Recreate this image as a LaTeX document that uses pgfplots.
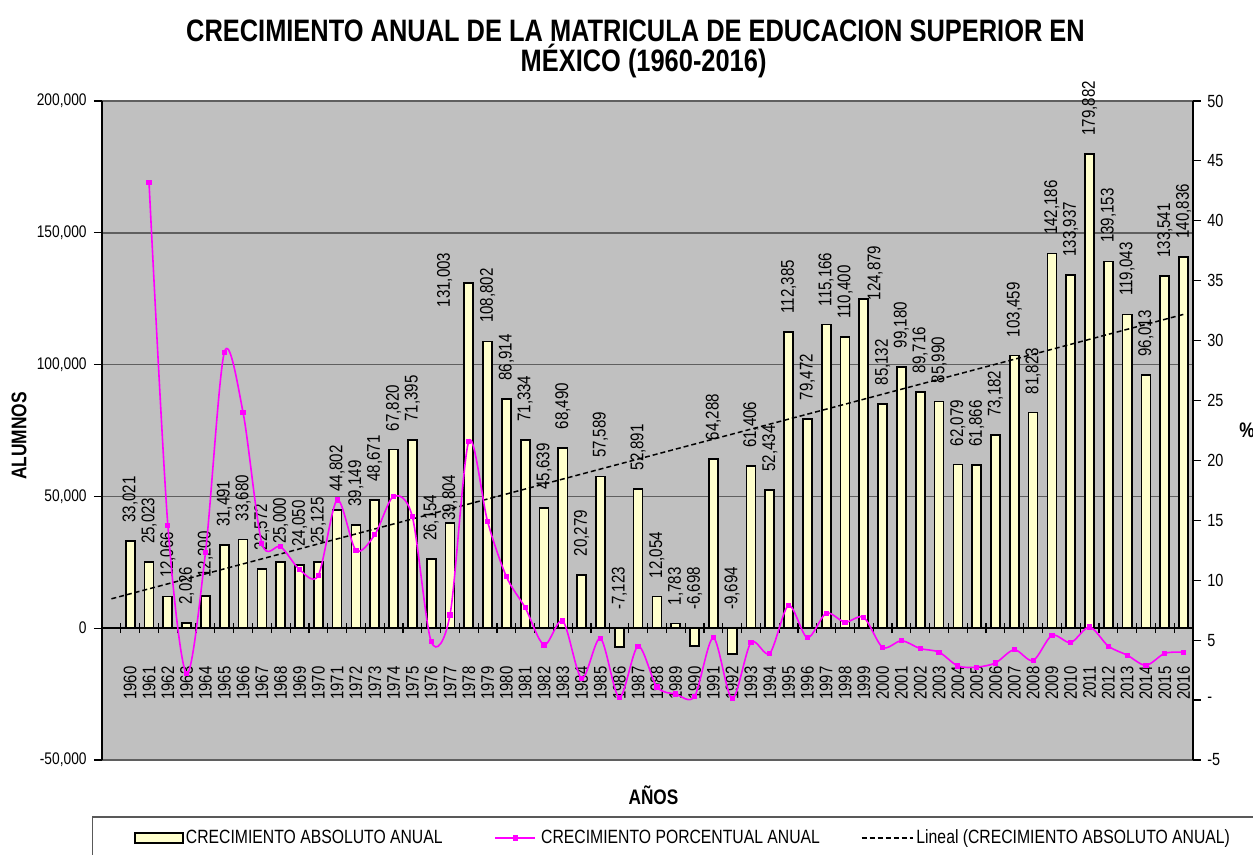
\documentclass[border=0pt]{standalone}
\usepackage{pgfplots}
\pgfplotsset{compat=1.18}
\usepackage{pgfplotstable}
\usepackage{fontspec}
\setmainfont{Liberation Sans}
\newfontfamily\narrow[FakeStretch=0.82]{Liberation Sans}
\definecolor{plotbg}{RGB}{192,192,192}
\definecolor{barfill}{RGB}{255,255,204}
\definecolor{gridc}{RGB}{95,95,95}
\definecolor{mag}{RGB}{255,0,255}
\newcommand{\tickfont}{\narrow\fontsize{8.4}{10}\selectfont}
\newcommand{\rtickfont}{\narrow\fontsize{8.8}{10}\selectfont}
\newcommand{\yearfont}{\narrow\fontsize{9.1}{11}\selectfont}
\newcommand{\lblfont}{\narrow\fontsize{9.2}{11}\selectfont}
\newcommand{\legfont}{\narrow\fontsize{9.6}{11.5}\selectfont}
\pgfplotsset{
  barleg/.style={legend image code/.code={\draw[fill=barfill, draw=black, line width=0.8pt] (0pt,-2.5pt) rectangle (24pt,2.5pt);}},
  magleg/.style={legend image code/.code={\draw[mark repeat=2, mark phase=2, ##1] plot coordinates {(0pt,0pt) (10pt,0pt) (20pt,0pt)};}},
  trendleg/.style={legend image code/.code={\draw[##1] (0pt,0pt) -- (25.5pt,0pt);}},
}

\pgfplotstableread{
x abs labpos dx dy
0 33021 33021 0 9
1 25023 25023 0 9
2 12066 12066 0 9
3 2026 2026 0 9
4 12200 12200 0 9
5 31491 31491 0 9
6 33680 33680 0 9
7 22572 22572 0 9
8 25000 25000 0 9
9 24050 24050 0 9
10 25125 25125 0 9
11 44802 44802 0 9
12 39149 39149 0 9
13 48671 48671 0 9
14 67820 67820 0 9
15 71395 71395 0 9
16 26154 26154 0 9
17 39804 39804 0 1
18 131003 131003 -12.1 -12.4
19 108802 108802 0 9
20 86914 86914 0 9
21 71334 71334 0 9
22 45639 45639 0 9
23 68490 68490 0 9
24 20279 20279 0 9
25 57589 57589 0 9
26 -7123 0 0 9
27 52891 52891 0 9
28 12054 12054 0 9
29 1783 1783 0 9
30 -6698 0 0 9
31 64288 64288 0 9
32 -9694 0 0 9
33 61406 61406 0 9
34 52434 52434 0 9
35 112385 112385 0 9
36 79472 79472 0 9
37 115166 115166 0 9
38 110400 110400 0 9
39 124879 124879 5.7 -0.8
40 85132 85132 0 9
41 99180 99180 0 9
42 89716 89716 0 9
43 85990 85990 0 9
44 62079 62079 0 9
45 61866 61866 0 9
46 73182 73182 0 9
47 103459 103459 0 9
48 81823 81823 0 9
49 142186 142186 0 9
50 133937 133937 0 9
51 179882 179882 0 9
52 139153 139153 0 9
53 119043 119043 0 9
54 96013 96013 0 9
55 133541 133541 0 9
56 140836 140836 0 9
}\absdata

\pgfplotstableread{
x pct
1 43.2
2 14.6
3 2.2
4 12.3
5 29.0
6 24.0
7 13.1
8 12.8
9 10.9
10 10.4
11 16.7
12 12.5
13 13.8
14 17.0
15 15.3
16 4.9
17 7.1
18 21.6
19 14.9
20 10.3
21 7.7
22 4.6
23 6.6
24 1.8
25 5.15
26 0.2
27 4.5
28 1.1
29 0.5
30 0.3
31 5.2
32 0.1
33 4.8
34 3.9
35 7.9
36 5.2
37 7.25
38 6.5
39 6.9
40 4.4
41 4.95
42 4.3
43 4.0
44 2.85
45 2.75
46 3.1
47 4.2
48 3.3
49 5.4
50 4.8
51 6.1
52 4.5
53 3.75
54 2.9
55 3.9
56 4.0
}\pctdata

\begin{document}
\begin{tikzpicture}
% ---------- axis 1: bars, left axis, grid, labels, trend ----------
\begin{axis}[name=ax, at={(0,0)}, anchor=south west, scale only axis,
  width=545.5pt, height=329.5pt,
  xmin=-1.5, xmax=56.5, ymin=-50000, ymax=200000,
  axis background/.style={fill=plotbg},
  axis x line=none, axis y line*=left,
  y axis line style={black, line width=0.75pt},
  ytick={-50000,0,50000,100000,150000,200000},
  scaled y ticks=false,
  ymajorgrids, major grid style={gridc, line width=0.75pt},
  tick align=outside, major tick length=4pt,
  tick style={black, line width=0.6pt},
  yticklabel style={font=\tickfont, inner sep=0pt, xshift=-3.5pt},
  /pgf/number format/.cd, fixed, precision=0, 1000 sep={,}, assume math mode=true, /pgfplots/.cd,
  legend columns=3,
  legend style={at={(0,0)}, anchor=west, xshift=16pt, yshift=-39pt,
    draw=none, fill=none, inner sep=0pt,
    nodes={inner sep=0pt, font=\legfont},
    /tikz/column 1/.style={column sep=1pt},
    /tikz/column 2/.style={column sep=26pt},
    /tikz/column 3/.style={column sep=2.5pt},
    /tikz/column 4/.style={column sep=20.5pt},
    /tikz/column 5/.style={column sep=1.5pt}},
  legend cell align=left,
]
\addplot[ybar, bar width=0.48, fill=barfill, draw=black, line width=0.85pt, barleg]
  table[x=x, y=abs] {\absdata};
\addlegendentry{CRECIMIENTO ABSOLUTO ANUAL}
\addlegendimage{mag, line width=0.8pt, mark=square*, mark size=0.9pt, magleg}
\addlegendentry{CRECIMIENTO PORCENTUAL ANUAL}
\addplot[draw=none, mark=none, forget plot,
  nodes near coords, point meta=explicit,
  visualization depends on={\thisrow{dx} \as \ldx},
  visualization depends on={\thisrow{dy} \as \ldy},
  every node near coord/.style={font=\lblfont, inner sep=0pt, black,
    xshift=\ldx pt, yshift=\ldy pt, rotate=90, anchor=west}]
  table[x=x, y=labpos, meta=abs] {\absdata};
\addplot[black, line width=0.75pt, dash pattern=on 2.5pt off 1.5pt, trendleg]
  coordinates {(-1,11148) (56,119055)};
\addlegendentry{Lineal (CRECIMIENTO ABSOLUTO ANUAL)}
\end{axis}

% ---------- axis 2: category axis at zero ----------
\begin{axis}[at={(0,0)}, anchor=south west, scale only axis,
  width=545.5pt, height=329.5pt,
  xmin=-1.5, xmax=56.5, ymin=-50000, ymax=200000,
  axis x line*=middle, axis y line=none,
  x axis line style={black, line width=0.75pt},
  xtick={0,...,56},
  xticklabels={1960,1961,1962,1963,1964,1965,1966,1967,1968,1969,1970,1971,1972,1973,1974,1975,1976,1977,1978,1979,1980,1981,1982,1983,1984,1985,1986,1987,1988,1989,1990,1991,1992,1993,1994,1995,1996,1997,1998,1999,2000,2001,2002,2003,2004,2005,2006,2007,2008,2009,2010,2011,2012,2013,2014,2015,2016},
  major tick length=0pt,
  minor xtick={-0.5,0.5,...,56.5},
  minor tick length=5pt, xtick align=center,
  minor x tick style={black, line width=0.6pt},
  xticklabel style={font=\yearfont, inner sep=0pt, yshift=-19pt, rotate=90, anchor=east},
]
\end{axis}

% ---------- axis 3: percent, right axis ----------
\begin{axis}[at={(0,0)}, anchor=south west, scale only axis,
  width=545.5pt, height=329.5pt,
  xmin=-1.5, xmax=56.5, ymin=-5, ymax=50,
  axis x line=none, axis y line*=right,
  y axis line style={black, line width=0.75pt},
  ytick={-5,0,5,...,50},
  yticklabels={-5,-,5,10,15,20,25,30,35,40,45,50},
  tick align=outside, major tick length=4pt,
  tick style={black, line width=0.6pt},
  yticklabel style={font=\rtickfont, inner sep=0pt, xshift=3pt},
]
\addplot[mag, line width=0.8pt, smooth, mark=square*, mark size=0.9pt]
  table[x=x, y=pct] {\pctdata};
\end{axis}

% ---------- titles and axis labels ----------
\node[anchor=base, font=\narrow\bfseries\fontsize{15.5}{18}\selectfont]
  at ([shift={(266.75pt,29.6pt)}]ax.north west) {CRECIMIENTO ANUAL DE LA MATRICULA DE EDUCACION SUPERIOR EN};
\node[anchor=base, font=\narrow\bfseries\fontsize{15.5}{18}\selectfont]
  at ([shift={(270.8pt,14.65pt)}]ax.north west) {MÉXICO (1960-2016)};
\node[rotate=90, font=\narrow\bfseries\fontsize{10.6}{12}\selectfont]
  at ([shift={(-41.5pt,-2.75pt)}]ax.west) {ALUMNOS};
\node[font=\narrow\bfseries\fontsize{10.5}{12}\selectfont]
  at ([shift={(3pt,-17.5pt)}]ax.south) {AÑOS};
\node[font=\narrow\bfseries\fontsize{10.5}{12}\selectfont]
  at ([xshift=27pt]ax.east) {\%};

% legend frame (extends past the picture edge, as in the reference)
\draw[black!65, line width=0.6pt]
  ([shift={(-4.65pt,-60pt)}]ax.south west) -- ([shift={(-4.65pt,-28.5pt)}]ax.south west)
  -- ([shift={(620pt,-28.5pt)}]ax.south west);

\pgfresetboundingbox
\path[use as bounding box] ([shift={(-51pt,-47.5pt)}]ax.south west) rectangle ([shift={(575.5pt,380pt)}]ax.south west);
\end{tikzpicture}
\end{document}
